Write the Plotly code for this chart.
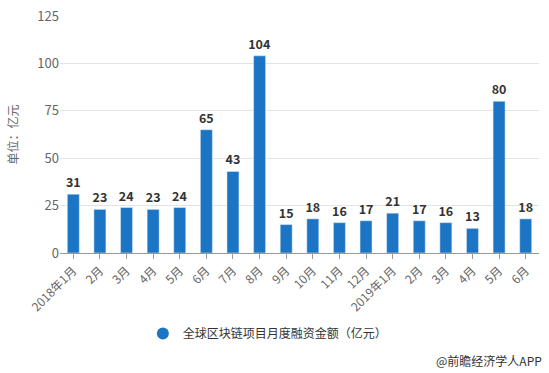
import plotly.graph_objects as go

categories = ["2018年1月", "2月", "3月", "4月", "5月", "6月", "7月", "8月", "9月", "10月",
              "11月", "12月", "2019年1月", "2月", "3月", "4月", "5月", "6月"]
values = [31, 23, 24, 23, 24, 65, 43, 104, 15, 18, 16, 17, 21, 17, 16, 13, 80, 18]
series_name = "全球区块链项目月度融资金额（亿元）"
y_ticks = [0, 25, 50, 75, 100, 125]

# unique x keys since month labels repeat
xkeys = list(range(len(categories)))

FONT = "Noto Sans CJK SC, Microsoft YaHei, sans-serif"
BLUE = "#1b75c4"

fig = go.Figure()
fig.add_trace(go.Bar(
    x=xkeys, y=values, marker_color=BLUE, showlegend=False,
    text=[str(v) for v in values], textposition="outside",
    textfont=dict(family=FONT, size=12.5, color="#333333", weight="bold"),
    cliponaxis=False, constraintext="none",
))
fig.add_trace(go.Scatter(
    x=[None], y=[None], mode="markers", name=series_name,
    marker=dict(symbol="circle", size=12, color=BLUE),
))

fig.update_layout(
    width=549, height=373,
    margin=dict(l=60, r=10, t=16, b=120, autoexpand=False),
    paper_bgcolor="white", plot_bgcolor="white",
    font=dict(family=FONT, size=12, color="#666666"),
    bargap=0.55,
    legend=dict(orientation="h", x=0.173, xanchor="left", y=-0.34, yanchor="middle",
                font=dict(size=12, color="#333333"), itemsizing="constant"),
    xaxis=dict(
        tickmode="array", tickvals=xkeys, ticktext=categories,
        tickangle=-45, ticks="outside", ticklen=5, tickcolor="#999999",
        showline=True, linecolor="#999999", linewidth=1,
        showgrid=False, range=[-0.5, len(categories) - 0.5],
        tickfont=dict(size=12, color="#666666"), automargin=False,
    ),
    yaxis=dict(
        range=[0, 125], tickvals=y_ticks, showgrid=True, gridcolor="#e3e3e3",
        zeroline=False, showline=False, ticks="", automargin=False,
        tickfont=dict(size=13, color="#666666"),
        title=dict(text="单位：亿元", font=dict(size=12, color="#666666"), standoff=16),
    ),
    annotations=[dict(
        text="@前瞻经济学人APP", xref="paper", yref="paper",
        x=1.01, y=-0.455, xanchor="right", yanchor="middle", showarrow=False,
        font=dict(size=12, color="#333333"),
    )],
)

fig.write_html("out.html", config={"displayModeBar": False},
               post_script="document.body.style.margin='0';document.body.style.overflow='hidden';")
